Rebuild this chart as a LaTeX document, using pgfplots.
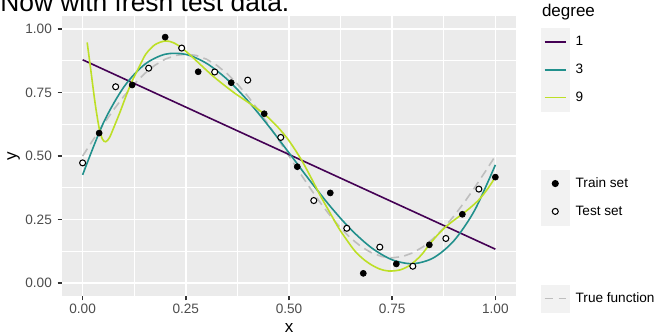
\documentclass[border=0pt]{standalone}
\usepackage{pgfplots}
\pgfplotsset{compat=1.18}
\usepackage{fontspec}
\setmainfont{Liberation Sans}
\definecolor{ggbg}{HTML}{EBEBEB}
\definecolor{keybg}{HTML}{F2F2F2}
\definecolor{gg20}{HTML}{333333}
\definecolor{gg30}{HTML}{4D4D4D}
\definecolor{vir1}{HTML}{440154}
\definecolor{vir3}{HTML}{21908C}
\definecolor{vir9}{HTML}{BDDF26}
\definecolor{truec}{HTML}{BEBEBE}
\pgfplotsset{
  ggkeyline/.style={legend image code/.code={\fill[keybg] (0bp,-10.25bp) rectangle (21bp,10.25bp); \draw[line width=1.2bp,solid,#1] (2.5bp,0bp) -- (18.5bp,0bp);}},
  ggkeypoint/.style={legend image code/.code={\fill[keybg] (0bp,-10.25bp) rectangle (21bp,10.25bp); \path[line width=0.8bp,solid,#1] (10.5bp,0bp) circle[radius=2.25bp];}},
  ggkeyspace/.style={legend image code/.code={\path[draw=none,fill=none] (0bp,-#1) rectangle (21bp,#1);}},
}
\begin{document}
\begin{tikzpicture}
\begin{axis}[
  at={(46.5bp,29.25bp)}, anchor=south west,
  scale only axis, width=340.5bp, height=210bp,
  xmin=-0.05, xmax=1.05, ymin=-0.05, ymax=1.05,
  xtick={0,0.25,0.5,0.75,1}, ytick={0,0.25,0.5,0.75,1},
  minor xtick={0.125,0.375,0.625,0.875}, minor ytick={0.125,0.375,0.625,0.875},
  grid=both,
  major grid style={white, line width=1.2bp},
  minor grid style={white, line width=0.6bp},
  axis background/.style={fill=ggbg},
  axis line style={draw=none},
  tick align=outside, tick pos=left,
  major tick length=3.2bp, minor tick length=0pt,
  tick style={gg20, line width=1.2bp},
  /pgf/number format/.cd, fixed, fixed zerofill, precision=2, assume math mode=true,
  /pgfplots/.cd,
  ticklabel style={font=\fontsize{10.2bp}{12bp}\selectfont, text=gg30},
  xticklabel style={anchor=north, inner sep=0pt, yshift=-2.8bp},
  yticklabel style={anchor=east, inner sep=0pt, xshift=-4.2bp},
  xlabel={x}, ylabel={y},
  every axis x label/.style={at={(axis description cs:0.5,-0.1310)}, anchor=base, font=\fontsize{12.75bp}{15bp}\selectfont},
  every axis y label/.style={at={(axis description cs:-0.1063,0.5)}, anchor=center, rotate=90, font=\fontsize{12.75bp}{15bp}\selectfont},
  legend style={at={(axis description cs:1.0551,0.9571)}, anchor=north west, draw=none, fill=none,
    inner sep=0pt, outer sep=0pt, row sep=0pt, column sep=2.6bp,
    font=\fontsize{10.2bp}{12bp}\selectfont},
  legend cell align=left,
]
% true function
\addplot[truec, line width=1.2bp, dash pattern=on 6.5bp off 4bp, forget plot] coordinates {
(0,0.5) (0.025,0.5626) (0.05,0.6236) (0.075,0.6816) (0.1,0.7351) (0.125,0.7828) (0.15,0.8236) (0.175,0.8564) (0.2,0.8804) (0.225,0.8951) (0.25,0.9)
(0.275,0.8951) (0.3,0.8804) (0.325,0.8564) (0.35,0.8236) (0.375,0.7828) (0.4,0.7351) (0.425,0.6816) (0.45,0.6236) (0.475,0.5626) (0.5,0.5)
(0.525,0.4374) (0.55,0.3764) (0.575,0.3184) (0.6,0.2649) (0.625,0.2172) (0.65,0.1764) (0.675,0.1436) (0.7,0.1196) (0.725,0.1049) (0.75,0.1)
(0.775,0.1049) (0.8,0.1196) (0.825,0.1436) (0.85,0.1764) (0.875,0.2172) (0.9,0.2649) (0.925,0.3184) (0.95,0.3764) (0.975,0.4374) (1,0.5)
};
% degree 1
\addplot[vir1, line width=1.2bp, forget plot] coordinates {(0,0.878) (1,0.134)};
% degree 3
\addplot[vir3, line width=1.2bp, smooth, forget plot] coordinates {
(0,0.426) (0.05,0.6291) (0.1,0.7714) (0.15,0.8594) (0.2,0.8998) (0.25,0.8992) (0.3,0.8642) (0.35,0.8014) (0.4,0.7174) (0.45,0.6189) (0.5,0.5125)
(0.55,0.4046) (0.6,0.3021) (0.65,0.2114) (0.7,0.1393) (0.75,0.0922) (0.8,0.0769) (0.85,0.0999) (0.9,0.1679) (0.95,0.2873) (1,0.465)
};
% degree 9
\addplot[vir9, line width=1.2bp, smooth, forget plot] coordinates {
(0.011,0.946) (0.02,0.835) (0.03,0.71) (0.04,0.61) (0.048,0.566) (0.056,0.556) (0.065,0.572) (0.075,0.61) (0.09,0.67) (0.105,0.735)
(0.12,0.795) (0.137,0.85) (0.153,0.9) (0.175,0.937) (0.2,0.952) (0.22,0.945) (0.24,0.925) (0.265,0.89) (0.29,0.852) (0.315,0.815)
(0.34,0.782) (0.37,0.745) (0.407,0.704) (0.44,0.665) (0.472,0.615) (0.5,0.56) (0.53,0.485) (0.555,0.41) (0.577,0.341) (0.6,0.275)
(0.62,0.218) (0.64,0.17) (0.66,0.126) (0.68,0.095) (0.7,0.072) (0.72,0.056) (0.742,0.048) (0.77,0.053) (0.795,0.073) (0.82,0.11)
(0.84,0.152) (0.86,0.19) (0.88,0.222) (0.9,0.248) (0.92,0.272) (0.94,0.298) (0.96,0.328) (0.98,0.368) (1,0.417)
};
% train set
\addplot[only marks, mark=*, mark size=2.25bp, mark options={draw=black, fill=black, line width=0.5bp}, forget plot] coordinates {
(0.04,0.590) (0.12,0.779) (0.20,0.967) (0.28,0.831) (0.36,0.788) (0.44,0.666) (0.52,0.458) (0.60,0.355) (0.68,0.039) (0.76,0.076) (0.84,0.151) (0.92,0.271) (1.00,0.417)
};
% test set
\addplot[only marks, mark=*, mark size=2.25bp, mark options={draw=black, fill=white, line width=0.8bp}, forget plot] coordinates {
(0.00,0.473) (0.08,0.772) (0.16,0.845) (0.24,0.924) (0.32,0.830) (0.40,0.798) (0.48,0.573) (0.56,0.325) (0.64,0.216) (0.72,0.142) (0.80,0.067) (0.88,0.176) (0.96,0.370)
};
\addlegendimage{ggkeyline=vir1}\addlegendentry{1}
\addlegendimage{ggkeyline=vir3}\addlegendentry{3}
\addlegendimage{ggkeyline=vir9}\addlegendentry{9}
\addlegendimage{ggkeyspace=21.75bp}\addlegendentry{\mbox{}}
\addlegendimage{ggkeypoint={draw=black, fill=black}}\addlegendentry{Train set}
\addlegendimage{ggkeypoint={draw=black, fill=white}}\addlegendentry{Test set}
\addlegendimage{ggkeyspace=22.25bp}\addlegendentry{\mbox{}}
\addlegendimage{ggkeyline={truec, dash pattern=on 6.5bp off 4bp}}\addlegendentry{True function}
\end{axis}
\node[anchor=base west, inner sep=0pt, font=\fontsize{12.75bp}{15bp}\selectfont] at (406.3bp,238.9bp) {degree};
\node[anchor=base west, inner sep=0pt, font=\fontsize{19.8bp}{23bp}\selectfont] at (0bp,242.25bp) {Now with fresh test data.};
\pgfresetboundingbox
\path[use as bounding box] (0bp,0bp) rectangle (495bp,251.25bp);
\end{tikzpicture}
\end{document}
